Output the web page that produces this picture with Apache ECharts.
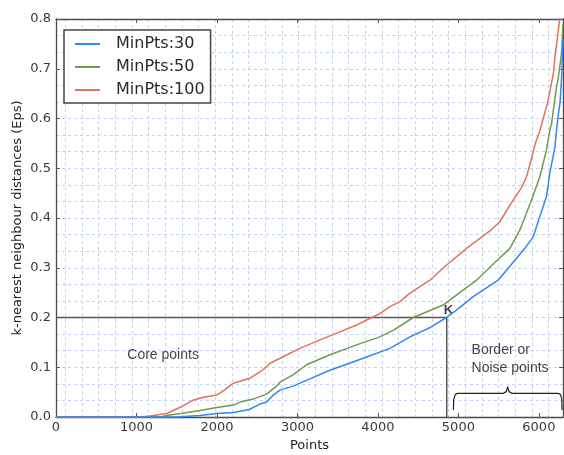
<!DOCTYPE html>
<html>
<head>
<meta charset="utf-8">
<script src="https://cdn.jsdelivr.net/npm/echarts@6/dist/echarts.min.js"></script>
<style>
  html, body { margin: 0; padding: 0; background: #fff; }
  #chart { width: 564px; height: 455px; }
</style>
</head>
<body>
<div id="chart"></div>
<script>
// k-distance curves, [points, eps]
const minPts30 = [
  [0, 0], [1500, 0], [1789, 0.003], [1996, 0.007], [2203, 0.009], [2400, 0.015],
  [2534, 0.026], [2617, 0.030], [2700, 0.044], [2783, 0.054], [2948, 0.062],
  [3031, 0.068], [3404, 0.094], [3818, 0.118], [4149, 0.138], [4398, 0.161],
  [4650, 0.180], [4853, 0.200], [5000, 0.218], [5184, 0.242], [5494, 0.275],
  [5650, 0.305], [5826, 0.339], [5929, 0.362], [6012, 0.403], [6095, 0.443],
  [6136, 0.490], [6200, 0.543], [6220, 0.577], [6240, 0.605], [6265, 0.635],
  [6282, 0.680], [6300, 0.760]
];
const minPts50 = [
  [0, 0], [1300, 0], [1375, 0.003], [1550, 0.007], [1789, 0.013], [2000, 0.019],
  [2203, 0.024], [2286, 0.030], [2450, 0.036], [2617, 0.046], [2741, 0.062],
  [2783, 0.070], [2950, 0.085], [3114, 0.105], [3404, 0.125], [3735, 0.145],
  [4025, 0.161], [4200, 0.175], [4439, 0.200], [4811, 0.225], [5000, 0.248],
  [5226, 0.275], [5450, 0.310], [5640, 0.339], [5764, 0.376], [5909, 0.436],
  [6012, 0.483], [6095, 0.537], [6137, 0.577], [6158, 0.590], [6220, 0.664],
  [6240, 0.680], [6282, 0.731], [6300, 0.790]
];
const minPts100 = [
  [0, 0], [1050, 0], [1168, 0.002], [1375, 0.007], [1550, 0.020], [1706, 0.034],
  [1850, 0.040], [1996, 0.044], [2100, 0.055], [2203, 0.068], [2410, 0.078],
  [2550, 0.092], [2660, 0.108], [2783, 0.118], [3031, 0.138], [3280, 0.155],
  [3528, 0.171], [3735, 0.185], [3901, 0.198], [4025, 0.208], [4149, 0.222],
  [4273, 0.232], [4398, 0.249], [4646, 0.275], [4850, 0.305], [5102, 0.339],
  [5267, 0.359], [5400, 0.375], [5516, 0.393], [5680, 0.436], [5780, 0.460],
  [5847, 0.483], [5910, 0.520], [5960, 0.552], [6012, 0.575], [6116, 0.637],
  [6150, 0.665], [6180, 0.690], [6205, 0.731], [6230, 0.760], [6258, 0.800],
  [6280, 0.840]
];

// knee lines at K
const kneeLine = [[0, 0.2], [4855, 0.2], [4855, 0]];

// curly brace under "Border or Noise points"
const bracePath = [
  [4938, 0.014], [4942, 0.035], [4960, 0.045], [4990, 0.0476], [5560, 0.0476],
  [5595, 0.051], [5612, 0.061], [5629, 0.051], [5664, 0.0476], [6240, 0.0476],
  [6270, 0.045], [6285, 0.035], [6288, 0.014]
];

// text notes [x, y, text]
const notes = [
  [892, 0.1226, 'Core points'],
  [5170, 0.1327, 'Border or'],
  [5170, 0.098, 'Noise points']
];
const kNote = [[4882, 0.2137, 'K']];

const xTicks = [0, 1000, 2000, 3000, 4000, 5000, 6000];

const chart = echarts.init(document.getElementById('chart'));

const tickFont = { fontFamily: 'DejaVu Sans', fontSize: 13, color: '#3a3a3a' };
const frame = () => ({ show: true, onZero: false, lineStyle: { color: '#4a4a4a', width: 1.3 } });
const gridDash = () => ({ color: '#c3d1f2', width: 1, type: [3, 3] });
const inTick = () => ({ show: true, inside: true, length: 4, lineStyle: { color: '#555' } });

const option = {
  backgroundColor: '#fff',
  animation: false,
  grid: [
    { left: 56, right: 1, top: 19, bottom: 38, outerBoundsMode: 'none' },
    // graph-paper vertical lines (not aligned to ticks)
    { left: 65.33, right: 15.33, top: 19, bottom: 38, outerBoundsMode: 'none' }
  ],
  legend: {
    data: ['MinPts:30', 'MinPts:50', 'MinPts:100'],
    orient: 'vertical',
    left: 64,
    top: 30,
    padding: [6, 6, 5, 11],
    icon: 'rect',
    itemWidth: 25,
    itemHeight: 2,
    itemGap: 7,
    backgroundColor: '#fff',
    borderColor: '#444',
    borderWidth: 1.5,
    borderRadius: 0,
    textStyle: {
      fontFamily: 'DejaVu Sans',
      fontSize: 16,
      lineHeight: 16,
      color: '#2a2a2a',
      padding: [0, 0, 0, 11]
    }
  },
  xAxis: [
    {
      gridIndex: 0, type: 'value', min: 0, max: 6300, interval: 1000,
      name: 'Points', nameLocation: 'middle', nameGap: 22,
      nameTextStyle: { fontFamily: 'DejaVu Sans', fontSize: 13, color: '#222' },
      axisLine: frame(),
      axisTick: inTick(),
      axisLabel: Object.assign({
        margin: 4,
        formatter: v => (xTicks.indexOf(v) >= 0 ? String(v) : '')
      }, tickFont),
      splitLine: { show: false }
    },
    {
      gridIndex: 0, type: 'value', position: 'top', min: 0, max: 6300, interval: 1000,
      axisLine: frame(),
      axisTick: inTick(),
      axisLabel: { show: false },
      splitLine: { show: false }
    },
    {
      gridIndex: 1, type: 'value', min: 0, max: 29, interval: 1,
      axisLine: { show: false }, axisTick: { show: false },
      axisLabel: { color: 'transparent', formatter: () => '' },
      splitLine: { show: true, lineStyle: gridDash() }
    }
  ],
  yAxis: [
    {
      gridIndex: 0, type: 'value', min: 0, max: 0.8, interval: 0.1,
      name: 'k-nearest neighbour distances (Eps)', nameLocation: 'middle',
      nameGap: 32, nameMoveOverlap: false,
      nameTextStyle: { fontFamily: 'DejaVu Sans', fontSize: 13, color: '#222' },
      axisLine: frame(),
      axisTick: inTick(),
      axisLabel: Object.assign({ margin: 5, formatter: v => v.toFixed(1) }, tickFont),
      splitLine: { show: true, lineStyle: gridDash() },
      minorTick: { show: false, splitNumber: 3 },
      minorSplitLine: { show: true, lineStyle: gridDash() }
    },
    {
      gridIndex: 0, type: 'value', position: 'right', min: 0, max: 0.8, interval: 0.1,
      axisLine: frame(),
      axisTick: inTick(),
      axisLabel: { show: false },
      splitLine: { show: false }
    },
    { gridIndex: 1, type: 'value', min: 0, max: 1, show: false }
  ],
  series: [
    {
      name: 'MinPts:30', type: 'line', data: minPts30, symbol: 'none',
      lineStyle: { color: '#2f88f6', width: 1.5 }, itemStyle: { color: '#2f88f6' }, z: 4
    },
    {
      name: 'MinPts:50', type: 'line', data: minPts50, symbol: 'none',
      lineStyle: { color: '#74994c', width: 1.5 }, itemStyle: { color: '#74994c' }, z: 3
    },
    {
      name: 'MinPts:100', type: 'line', data: minPts100, symbol: 'none',
      lineStyle: { color: '#e6715a', width: 1.5 }, itemStyle: { color: '#e6715a' }, z: 3
    },
    {
      name: 'knee', type: 'line', data: kneeLine, symbol: 'none',
      lineStyle: { color: '#555', width: 1.5 }, z: 2, silent: true
    },
    {
      name: 'brace', type: 'line', data: bracePath, symbol: 'none',
      lineStyle: { color: '#222', width: 1.2 }, z: 2, silent: true
    },
    {
      name: 'notes', type: 'scatter', data: notes, symbolSize: 1,
      itemStyle: { color: 'transparent' }, silent: true,
      label: {
        show: true, position: [0, 0], align: 'left', verticalAlign: 'middle',
        formatter: p => p.value[2],
        fontFamily: 'Liberation Sans', fontSize: 14, color: '#111'
      }
    },
    {
      name: 'kLabel', type: 'scatter', data: kNote, symbolSize: 1,
      itemStyle: { color: 'transparent' }, silent: true,
      label: {
        show: true, position: [0, 0], align: 'center', verticalAlign: 'middle',
        formatter: p => p.value[2],
        fontFamily: 'Liberation Sans', fontSize: 13, fontWeight: 'bold', color: '#111'
      }
    },
    // empty series so the frame axes and the paper grid get drawn
    { name: 'frame', type: 'line', xAxisIndex: 1, yAxisIndex: 1, data: [], silent: true },
    { name: 'paper', type: 'line', xAxisIndex: 2, yAxisIndex: 2, data: [], silent: true }
  ]
};

chart.setOption(option);
</script>
</body>
</html>
